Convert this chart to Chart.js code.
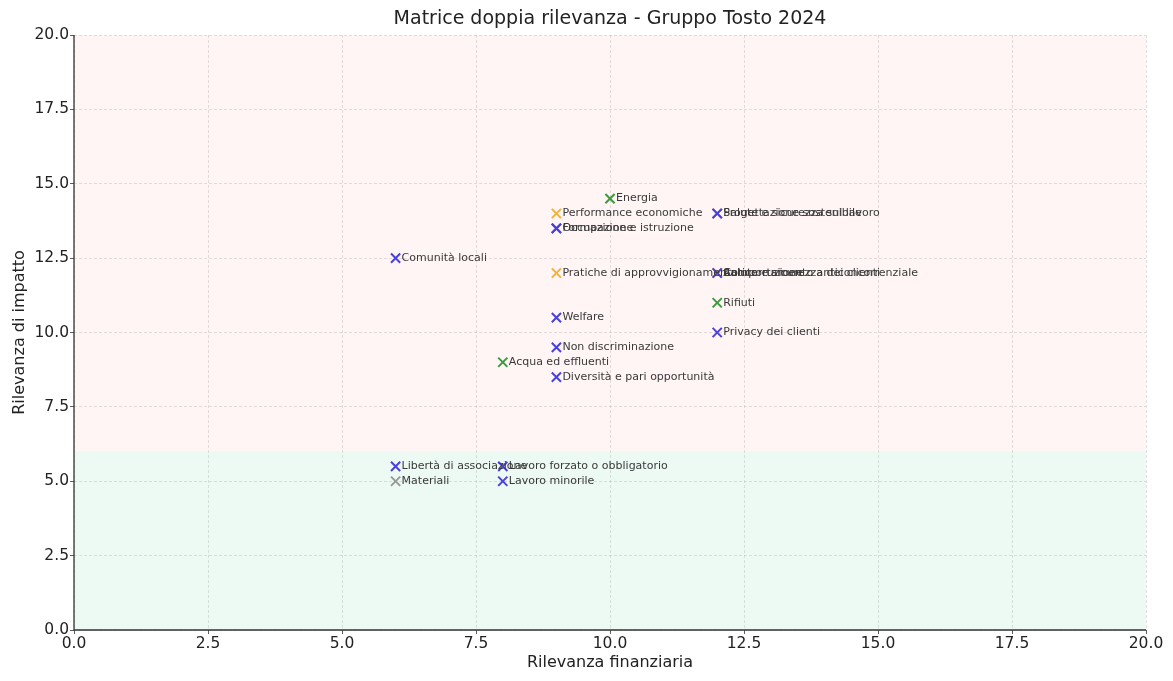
<!DOCTYPE html>
<html>
<head>
<meta charset="utf-8">
<script src="https://cdn.jsdelivr.net/npm/chart.js@4.4.1/dist/chart.umd.min.js"></script>
<style>
  html, body { margin: 0; padding: 0; background: #ffffff; }
  #wrap { width: 1173px; height: 681px; }
</style>
</head>
<body>
<div id="wrap"><canvas id="c" width="1173" height="681"></canvas></div>
<script>
// Temi materiali: nome, rilevanza finanziaria, rilevanza di impatto, ambito
const temi = [
  "Energia", "Performance economiche", "Progettazione sostenibile", "Salute e sicurezza sul lavoro",
  "Formazione e istruzione", "Occupazione", "Comunità locali", "Pratiche di approvvigionamento",
  "Anticorruzione", "Comportamento anticoncorrenziale", "Salute e sicurezza dei clienti",
  "Rifiuti", "Welfare", "Privacy dei clienti", "Non discriminazione", "Acqua ed effluenti",
  "Diversità e pari opportunità", "Libertà di associazione", "Lavoro forzato o obbligatorio",
  "Materiali", "Lavoro minorile"
];
const rilevanzaFinanziaria = [10, 9, 12, 12, 9, 9, 6, 9, 12, 12, 12, 12, 9, 12, 9, 8, 9, 6, 8, 6, 8];
const rilevanzaImpatto = [14.5, 14, 14, 14, 13.5, 13.5, 12.5, 12, 12, 12, 12, 11, 10.5, 10, 9.5, 9, 8.5, 5.5, 5.5, 5, 5];
const ambito = [
  "Ambientale", "Economico", "Sociale", "Sociale", "Sociale", "Sociale", "Sociale", "Economico",
  "Economico", "Economico", "Sociale", "Ambientale", "Sociale", "Sociale", "Sociale", "Ambientale",
  "Sociale", "Sociale", "Sociale", "Materiali", "Sociale"
];
// Chart.js disegna per primo l'ultimo dataset: il sociale resta in primo piano
const ambiti = ["Sociale", "Materiali", "Ambientale", "Economico"];
const coloriAmbito = {
  Economico: "#f2b040",
  Ambientale: "#3f9a3f",
  Materiali: "#9a9a9a",
  Sociale: "#4a40dc"
};
// Fasce di soglia sull'asse della rilevanza di impatto
const sogliaImpatto = 6;
const assiMax = 20;
const passoTick = 2.5;

const datasets = ambiti.map(a => ({
  label: a,
  data: temi.map((t, i) => ({ x: rilevanzaFinanziaria[i], y: rilevanzaImpatto[i], nome: t, a: ambito[i] }))
            .filter(p => p.a === a),
  pointStyle: "crossRot",
  pointRadius: 6.5,
  pointHoverRadius: 6.5,
  borderWidth: 2,
  borderColor: coloriAmbito[a],
  backgroundColor: coloriAmbito[a],
  showLine: false
}));

const FONT = "'DejaVu Sans', sans-serif";

const fascePlugin = {
  id: "fasce",
  beforeDatasetsDraw(chart) {
    const { ctx, scales: { x, y } } = chart;
    const x0 = x.getPixelForValue(0), x1 = x.getPixelForValue(assiMax);
    const yTop = y.getPixelForValue(assiMax);
    const ys = y.getPixelForValue(sogliaImpatto);
    ctx.save();
    ctx.fillStyle = "rgba(240, 120, 100, 0.07)";
    ctx.fillRect(x0, yTop, x1 - x0, ys - yTop);
    ctx.fillStyle = "rgba(60, 190, 120, 0.09)";
    ctx.fillRect(x0, ys, x1 - x0, y.getPixelForValue(0) - ys);
    ctx.restore();
  },
  afterDatasetsDraw(chart) {
    const { ctx, scales: { x, y } } = chart;
    ctx.save();
    ctx.font = "11px " + FONT;
    ctx.fillStyle = "#3a3a3a";
    ctx.textBaseline = "middle";
    ctx.textAlign = "left";
    chart.data.datasets.forEach((ds, di) => {
      const meta = chart.getDatasetMeta(di);
      meta.data.forEach((el, k) => {
        ctx.fillText(ds.data[k].nome, el.x + 6, el.y);
      });
    });
    // assi sinistro e inferiore, linea continua
    ctx.strokeStyle = "#333";
    ctx.lineWidth = 1.3;
    ctx.setLineDash([]);
    ctx.beginPath();
    ctx.moveTo(x.left, y.top);
    ctx.lineTo(x.left, y.bottom);
    ctx.lineTo(x.right, y.bottom);
    ctx.stroke();
    ctx.restore();
  },
  afterDraw(chart) {
    const { ctx, chartArea } = chart;
    ctx.save();
    ctx.font = "19px " + FONT;
    ctx.fillStyle = "#222";
    ctx.textAlign = "center";
    ctx.textBaseline = "middle";
    ctx.fillText("Matrice doppia rilevanza - Gruppo Tosto 2024", (chartArea.left + chartArea.right) / 2, 19);
    ctx.restore();
  }
};

const asse = (titolo, titlePadding, extra) => Object.assign({
  type: "linear",
  min: 0,
  max: assiMax,
  ticks: {
    stepSize: passoTick,
    color: "#222",
    font: { family: FONT, size: 15.5 },
    padding: 1,
    callback: v => Number(v).toFixed(1)
  },
  grid: {
    color: "rgba(170,170,170,0.45)",
    lineWidth: 0.8,
    tickLength: 4,
    tickColor: "#333",
    tickBorderDash: [],
    drawTicks: true
  },
  border: { display: false, dash: [3, 2] },
  title: {
    display: true,
    text: titolo,
    color: "#222",
    padding: titlePadding,
    font: { family: FONT, size: 16 }
  }
}, extra);

new Chart(document.getElementById("c"), {
  type: "scatter",
  data: { datasets },
  options: {
    responsive: false,
    animation: false,
    layout: { padding: { top: 35, right: 27, left: 0, bottom: 0 } },
    plugins: {
      legend: { display: false },
      tooltip: { enabled: false },
      title: { display: false }
    },
    scales: {
      x: asse("Rilevanza finanziaria", { top: 4, bottom: 9 }, {
        afterFit(s) { s.height = 51; }
      }),
      y: asse("Rilevanza di impatto", { top: 10, bottom: 4 }, {
        afterFit(s) { s.width = 74; }
      })
    }
  },
  plugins: [fascePlugin]
});
</script>
</body>
</html>
